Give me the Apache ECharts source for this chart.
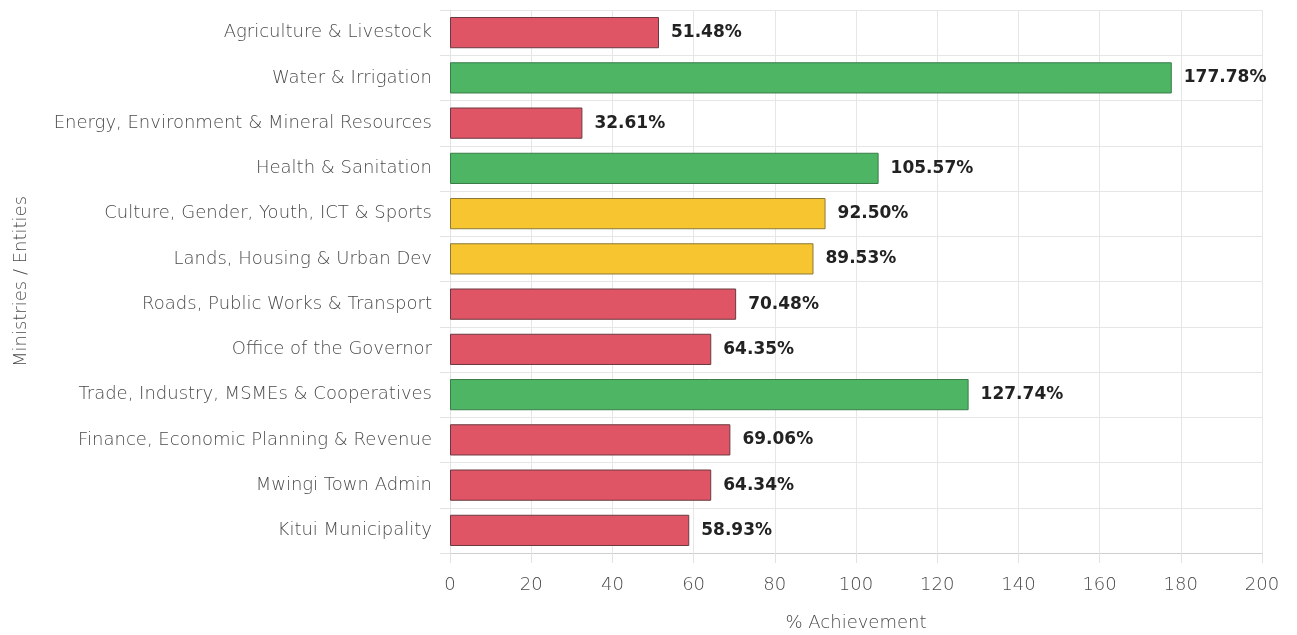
<!DOCTYPE html>
<html>
<head>
<meta charset="utf-8">
<script src="https://cdn.jsdelivr.net/npm/echarts@6/dist/echarts.min.js"></script>
<style>
html,body{margin:0;padding:0;background:#fff;}
#chart{width:1297px;height:635px;}
</style>
</head>
<body>
<div id="chart"></div>
<script>
const categories = [
  "Agriculture & Livestock",
  "Water & Irrigation",
  "Energy, Environment & Mineral Resources",
  "Health & Sanitation",
  "Culture, Gender, Youth, ICT & Sports",
  "Lands, Housing & Urban Dev",
  "Roads, Public Works & Transport",
  "Office of the Governor",
  "Trade, Industry, MSMEs & Cooperatives",
  "Finance, Economic Planning & Revenue",
  "Mwingi Town Admin",
  "Kitui Municipality"
];
const achievement = [51.48, 177.78, 32.61, 105.57, 92.50, 89.53, 70.48, 64.35, 127.74, 69.06, 64.34, 58.93];
const xTicks = [0, 20, 40, 60, 80, 100, 120, 140, 160, 180, 200];

function colorFor(v) {
  if (v >= 100) return { fill: "#4db564", border: "#3a7d48" };
  if (v >= 80) return { fill: "#f7c52f", border: "#8a7a3a" };
  return { fill: "#e05565", border: "#6b3a40" };
}

const font = "'DejaVu Sans', sans-serif";
const txt = '#4a4a4a';
const chart = echarts.init(document.getElementById('chart'));
chart.setOption({
  animation: false,
  grid: { left: 450, right: 35, top: 10, bottom: 82, containLabel: false, outerBoundsMode: 'none' },
  xAxis: {
    type: 'value',
    min: xTicks[0],
    max: xTicks[xTicks.length - 1],
    interval: 20,
    name: '% Achievement',
    nameLocation: 'middle',
    nameGap: 61,
    nameTextStyle: { color: txt, fontSize: 18, fontWeight: 300, fontFamily: font },
    axisLine: { show: true, lineStyle: { color: '#cfcfcf' } },
    axisTick: { show: true, length: 10, lineStyle: { color: '#e2e2e2' } },
    axisLabel: { color: txt, fontSize: 18, fontWeight: 300, fontFamily: font, margin: 23 },
    splitLine: { show: true, lineStyle: { color: '#e6e6e6' } }
  },
  yAxis: {
    type: 'category',
    data: categories,
    inverse: true,
    name: 'Ministries / Entities',
    nameLocation: 'middle',
    nameGap: 420,
    nameRotate: 90,
    nameTextStyle: { color: txt, fontSize: 18, fontWeight: 300, fontFamily: font },
    axisLine: { show: true, lineStyle: { color: '#e2e2e2' } },
    axisTick: { show: true, length: 10, lineStyle: { color: '#e2e2e2' } },
    axisLabel: { color: txt, fontSize: 18, fontWeight: 300, fontFamily: font, margin: 18 },
    splitLine: { show: true, lineStyle: { color: '#e6e6e6' } }
  },
  series: [{
    type: 'bar',
    barWidth: '69%',
    data: achievement.map(v => {
      const c = colorFor(v);
      return { value: v, itemStyle: { color: c.fill, borderColor: c.border, borderWidth: 1 } };
    }),
    label: {
      show: true,
      position: 'right',
      distance: 12,
      formatter: p => p.value.toFixed(2) + '%',
      color: '#222',
      fontSize: 17,
      fontWeight: 'bold',
      fontFamily: font
    }
  }]
});
</script>
</body>
</html>
